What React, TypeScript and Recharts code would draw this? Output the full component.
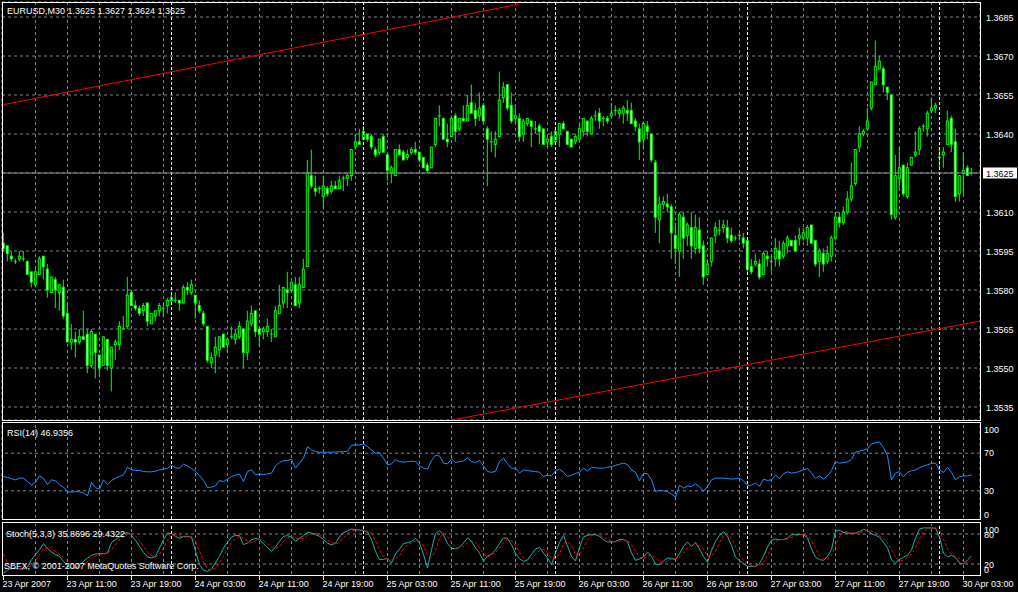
import {
	Bar,
	CartesianGrid,
	ComposedChart,
	Line,
	LineChart,
	ReferenceLine,
	XAxis,
	YAxis,
} from 'recharts';

// EURUSD M30, 23 Apr 2007 03:00 -> 30 Apr 03:00, one entry per 30 minute bar.
// prices are kept as pips above 1.3500
const PIP_BASE = 1.35;

const OPEN = [
	98, 97, 93, 91, 92, 92, 91, 87, 82, 86,
	93, 88, 79, 84, 79, 81, 71, 60, 61, 60,
	62, 63, 51, 63, 55, 51, 61, 50, 59, 59,
	65, 66, 79, 74, 73, 72, 75, 67, 70, 72,
	73, 74, 76, 76, 76, 75, 81, 79, 78, 74,
	71, 66, 52, 55, 57, 63, 59, 62, 61, 62,
	65, 56, 67, 72, 65, 64, 64, 63, 62, 71,
	75, 80, 80, 82, 75, 81, 89, 124, 119, 119,
	116, 119, 118, 120, 119, 123, 123, 124, 135, 137,
	138, 140, 139, 134, 133, 139, 132, 125, 124, 134,
	133, 131, 133, 134, 133, 131, 128, 127, 136, 147,
	146, 138, 139, 147, 142, 146, 145, 152, 149, 147,
	151, 142, 137, 136, 139, 154, 159, 151, 146, 146,
	140, 144, 145, 142, 143, 142, 137, 139, 137, 140,
	144, 141, 138, 137, 138, 141, 145, 140, 147, 148,
	146, 146, 147, 149, 148, 148, 149, 149, 145, 142,
	138, 143, 140, 129, 107, 113, 113, 112, 101, 95,
	108, 101, 104, 96, 103, 97, 86, 91, 101, 103,
	104, 104, 101, 100, 101, 100, 99, 89, 90, 90,
	86, 93, 91, 92, 95, 93, 97, 99, 99, 100,
	100, 100, 105, 99, 91, 94, 91, 93, 100, 108,
	106, 110, 115, 121, 135, 140, 142, 150, 159, 165,
	165, 158, 155, 108, 123, 128, 116, 128, 132, 134,
	143, 142, 149, 150, 131, 132, 136, 146, 137, 117,
	125, 127, 125,
];

const HIGH = [
	102, 97, 95, 92, 95, 95, 91, 87, 88, 93,
	93, 90, 85, 85, 82, 84, 75, 67, 64, 65,
	72, 65, 65, 63, 55, 62, 61, 58, 61, 68,
	70, 85, 80, 76, 74, 75, 75, 71, 72, 75,
	75, 77, 79, 79, 76, 82, 83, 84, 78, 76,
	72, 66, 56, 62, 62, 63, 62, 66, 65, 68,
	65, 72, 74, 72, 65, 66, 69, 65, 74, 82,
	81, 87, 83, 85, 85, 92, 130, 134, 124, 120,
	124, 120, 122, 122, 124, 124, 125, 134, 140, 142,
	143, 140, 140, 135, 138, 140, 132, 128, 134, 136,
	134, 134, 135, 137, 133, 131, 129, 135, 146, 151,
	146, 144, 147, 148, 146, 151, 155, 159, 152, 156,
	152, 143, 141, 141, 164, 160, 159, 156, 151, 148,
	146, 146, 145, 145, 144, 142, 139, 141, 142, 144,
	145, 141, 138, 140, 144, 146, 145, 147, 149, 150,
	147, 147, 152, 151, 150, 151, 153, 152, 146, 144,
	145, 145, 140, 130, 116, 116, 117, 113, 106, 110,
	110, 106, 110, 109, 108, 99, 92, 100, 106, 107,
	107, 107, 104, 101, 102, 102, 99, 92, 94, 92,
	95, 95, 93, 100, 99, 99, 101, 99, 101, 104,
	104, 105, 105, 99, 96, 96, 97, 101, 110, 110,
	112, 118, 129, 134, 143, 142, 150, 160, 176, 170,
	166, 158, 155, 132, 135, 128, 129, 131, 141, 143,
	144, 149, 154, 152, 135, 135, 149, 147, 142, 124,
	133, 128, 127,
];

const LOW = [
	95, 91, 91, 90, 91, 91, 86, 81, 81, 86,
	84, 77, 79, 73, 72, 69, 60, 57, 54, 59,
	61, 48, 50, 46, 47, 51, 49, 41, 53, 57,
	65, 65, 74, 72, 70, 70, 66, 67, 68, 70,
	70, 71, 75, 75, 72, 75, 78, 78, 69, 71,
	66, 52, 50, 48, 54, 58, 56, 61, 59, 61,
	50, 53, 66, 62, 58, 61, 62, 60, 62, 71,
	73, 73, 79, 74, 73, 81, 89, 119, 116, 117,
	111, 116, 117, 119, 119, 118, 120, 122, 134, 136,
	138, 137, 134, 131, 132, 133, 122, 121, 124, 132,
	130, 130, 132, 132, 129, 127, 125, 127, 135, 143,
	138, 135, 139, 137, 141, 145, 145, 148, 143, 145,
	144, 120, 133, 131, 139, 152, 149, 144, 144, 137,
	137, 143, 135, 140, 136, 136, 135, 135, 136, 135,
	142, 136, 135, 136, 138, 139, 139, 140, 145, 142,
	143, 144, 147, 147, 146, 144, 145, 144, 141, 130,
	134, 138, 129, 102, 98, 111, 110, 92, 90, 85,
	92, 97, 92, 94, 94, 82, 86, 89, 98, 101,
	102, 98, 98, 99, 99, 96, 87, 86, 89, 84,
	86, 89, 87, 89, 89, 92, 94, 97, 95, 97,
	99, 97, 98, 89, 85, 87, 90, 91, 99, 104,
	105, 109, 114, 120, 133, 139, 142, 149, 159, 165,
	156, 153, 107, 107, 119, 116, 115, 128, 131, 132,
	141, 139, 148, 148, 127, 127, 136, 133, 114, 114,
	117, 124, 124,
];

const CLOSE = [
	96, 94, 92, 91, 93, 92, 86, 83, 87, 92,
	89, 80, 85, 80, 82, 70, 60, 61, 60, 62,
	61, 51, 64, 56, 50, 62, 51, 58, 60, 66,
	65, 78, 74, 73, 71, 74, 68, 71, 72, 74,
	73, 76, 77, 76, 75, 81, 80, 82, 75, 72,
	67, 53, 54, 58, 62, 58, 61, 62, 63, 66,
	56, 68, 71, 64, 63, 65, 66, 63, 72, 74,
	81, 79, 83, 74, 82, 88, 125, 120, 118, 119,
	120, 117, 120, 119, 122, 123, 124, 134, 137, 136,
	141, 138, 135, 132, 138, 133, 126, 127, 134, 132,
	130, 132, 134, 133, 130, 127, 126, 135, 146, 147,
	138, 137, 146, 141, 146, 145, 151, 148, 146, 150,
	145, 138, 137, 138, 153, 158, 150, 145, 147, 139,
	145, 146, 143, 142, 141, 136, 138, 136, 141, 144,
	142, 136, 135, 139, 142, 146, 141, 146, 147, 145,
	146, 145, 148, 149, 149, 150, 148, 144, 143, 137,
	144, 141, 130, 108, 113, 114, 112, 102, 96, 109,
	100, 105, 97, 104, 96, 85, 90, 100, 104, 103,
	105, 100, 99, 100, 101, 98, 88, 87, 91, 85,
	94, 92, 91, 96, 92, 98, 100, 97, 95, 101,
	102, 104, 98, 90, 95, 90, 94, 100, 108, 106,
	110, 115, 120, 134, 140, 141, 145, 160, 166, 168,
	159, 156, 109, 124, 127, 117, 127, 131, 133, 142,
	143, 148, 150, 151, 131, 133, 145, 136, 116, 124,
	126, 124, 125,
];

const RSI = [
	45.2, 44.2, 42.8, 41.7, 43.5, 43.5, 39.9, 36, 38.9, 45.9,
	43.1, 36.7, 41.7, 40.6, 36.4, 33.9, 29, 28.6, 29, 29,
	27.6, 24.7, 38.9, 33.2, 31.8, 41.7, 36.4, 41, 43.5, 45.2,
	47, 55.1, 52.3, 51.6, 51.6, 50.5, 50.2, 50.2, 50.9, 52.3,
	53, 54.1, 57.2, 54.4, 54.1, 58.3, 56.5, 53.7, 50.5, 46.3,
	41, 33.6, 33.9, 35.3, 41, 39.9, 42.4, 45.2, 46.6, 47.7,
	39.9, 50.5, 52.3, 47, 47.7, 47.3, 48, 48.8, 56.5, 60.1,
	62.2, 62.2, 63.6, 54.1, 59.4, 64.7, 77, 73.5, 71.7, 71,
	71, 71, 71, 71.4, 71.4, 71.7, 72.1, 78.4, 78.8, 78.8,
	79.9, 77, 73.5, 70, 70.7, 64.7, 57.6, 58.7, 62.9, 61.1,
	60.4, 61.1, 61.5, 61.1, 56.5, 54.1, 53, 62.2, 67.8, 67.1,
	59.4, 58.7, 64, 60.1, 61.1, 61.8, 65, 61.1, 60.1, 62.2,
	56.5, 50.5, 49.6, 50.8, 61.3, 64.7, 58.7, 54.1, 54.1, 48.8,
	52.3, 51.6, 50.9, 50.5, 49.8, 45.2, 46.6, 45.9, 51.2, 53,
	49.8, 45.2, 46.6, 48.4, 49.8, 54.1, 50.9, 55.1, 54.4, 54.1,
	54.1, 55.1, 55.8, 57.2, 58.3, 59.4, 58, 52.3, 49.5, 40.6,
	48.8, 48.1, 41.7, 29.3, 30.4, 30, 29, 26.5, 23.3, 36,
	32.9, 35, 34.6, 37.5, 34.3, 29.3, 34.6, 41.7, 43.5, 43.5,
	43.5, 43.1, 42.4, 42.8, 43.5, 40.6, 35.7, 36, 38.2, 34.6,
	42.4, 41, 41.7, 46.6, 43.1, 48.1, 50.2, 48.8, 49.5, 50.5,
	52.3, 53.7, 48.8, 43.1, 45.9, 42.4, 45.9, 51.6, 61.1, 59.4,
	60.1, 60.8, 63.6, 71.2, 72.3, 73.2, 74.6, 79.8, 81.2, 81.9,
	76, 67.2, 41.6, 48.9, 50.4, 45.1, 49.6, 51.4, 52.1, 54.6,
	56.3, 57.7, 59.1, 59.5, 52.1, 49.6, 54.9, 49.6, 41.6, 45.1,
	45.8, 45.8, 46.9,
];

const STOCH_K = [
	2, 7.3, 11.3, 11.3, 10, 10, 14, 28.7, 38.7, 48.7,
	60.7, 50.7, 44, 38.7, 35.3, 25.3, 16.7, 11.3, 12, 16.7,
	25.3, 32, 37.3, 40, 40.7, 40.7, 42, 63.3, 68.7, 74,
	80.7, 83.3, 78, 67.3, 55.3, 43.3, 34, 32, 35.3, 52,
	68.7, 82, 80.7, 75.3, 71.3, 75.3, 75.3, 74, 45.3, 18.7,
	7.3, 5.3, 10, 22, 35.3, 52, 63.3, 74, 77.3, 76.7,
	58.7, 62, 68.7, 71.3, 68.7, 60.7, 52.7, 45.3, 54, 65.3,
	75.3, 76.7, 74, 65.3, 71.3, 76.7, 83.3, 82, 78.7, 75.3,
	68.7, 62, 58, 62, 74, 83.3, 86, 90, 88.7, 88,
	86.7, 84, 68.7, 45.3, 28.7, 29.3, 31.3, 22, 40, 50,
	60.7, 62.7, 64.7, 71.3, 62, 38.7, 12, 48.7, 80.7, 86.7,
	78, 60.7, 51.3, 50.7, 53.3, 62, 72, 65.3, 52, 42,
	25.3, 36, 40, 48, 61, 72, 71.3, 58.7, 40.7, 30.7,
	25.3, 28, 39.3, 50, 53.3, 42, 32, 18.7, 42, 63.3,
	77.3, 55.3, 35.3, 26, 53.3, 74, 77.3, 78.7, 78.7, 75.3,
	68.7, 64, 64, 65.3, 68.7, 68.7, 64.7, 42, 27.3, 30,
	34, 44, 35.3, 20, 18.7, 26, 32, 31.3, 28.7, 40.7,
	55.3, 64, 55.3, 63.3, 50, 35.3, 23.3, 47.3, 65.3, 77.3,
	84.7, 75.3, 56.7, 34, 26.7, 20.7, 15.3, 15.3, 15.3, 20.7,
	35.3, 54, 67.3, 70, 68.7, 68.7, 72, 78.7, 78.7, 78.7,
	78.7, 72, 50, 34, 28.7, 27.3, 35.3, 48.7, 86, 87.3,
	83.3, 82, 81, 82, 84.7, 89.4, 86.7, 80.7, 77.3, 73.9,
	63.1, 52.4, 28.8, 22, 28.8, 33.5, 37.5, 48.3, 71.9, 90.1,
	92.1, 92.1, 92.1, 91.5, 73.9, 41.6, 34.1, 37.5, 32.8, 22,
	20, 28.1, 35.9,
];

const STOCH_D = [
	40, 22, 10, 10, 11, 10, 11, 17, 27, 39,
	49, 53, 52, 45, 39, 33, 26, 18, 13, 13,
	18, 25, 32, 36, 39, 40, 41, 49, 58, 69,
	74, 79, 81, 76, 67, 55, 44, 37, 34, 40,
	52, 68, 77, 79, 76, 74, 74, 75, 65, 46,
	24, 10, 8, 12, 22, 36, 50, 63, 71, 76,
	71, 66, 63, 67, 70, 67, 61, 53, 51, 55,
	65, 72, 75, 72, 70, 71, 77, 81, 81, 79,
	74, 68, 63, 60, 64, 72, 81, 86, 88, 89,
	88, 86, 80, 66, 48, 35, 30, 28, 31, 37,
	50, 58, 62, 66, 66, 57, 38, 33, 47, 72,
	82, 75, 63, 54, 52, 55, 62, 66, 63, 53,
	40, 34, 38, 43, 52, 62, 69, 67, 57, 43,
	32, 28, 31, 39, 47, 49, 42, 31, 31, 41,
	61, 65, 56, 39, 38, 51, 68, 77, 78, 77,
	74, 69, 66, 64, 66, 68, 67, 58, 45, 33,
	30, 36, 38, 33, 25, 22, 26, 30, 31, 34,
	42, 53, 58, 61, 56, 50, 36, 35, 45, 63,
	76, 79, 72, 55, 39, 27, 21, 17, 15, 17,
	24, 37, 52, 64, 69, 69, 70, 73, 76, 79,
	79, 77, 67, 52, 38, 30, 30, 37, 57, 74,
	86, 84, 82, 82, 83, 85, 87, 86, 82, 77,
	71, 63, 48, 34, 26, 28, 33, 40, 53, 70,
	85, 91, 92, 92, 86, 69, 50, 38, 35, 31,
	25, 23, 29.4,
];

const TIME_LABELS = [
	'23 Apr 2007', '23 Apr 11:00', '23 Apr 19:00', '24 Apr 03:00',
	'24 Apr 11:00', '24 Apr 19:00', '25 Apr 03:00', '25 Apr 11:00',
	'25 Apr 19:00', '26 Apr 03:00', '26 Apr 11:00', '26 Apr 19:00',
	'27 Apr 03:00', '27 Apr 11:00', '27 Apr 19:00', '30 Apr 03:00',
];
const LABEL_BARS = [0, 16, 32, 48, 64, 80, 96, 112, 128, 144, 160, 176, 192, 208, 224, 240];
const GRID_BARS = [
	8, 16, 24, 32, 40, 48, 56, 64, 72, 80, 88, 96, 104, 112, 120, 128,
	136, 144, 152, 160, 168, 176, 184, 192, 200, 208, 216, 224, 232, 240,
];
const DAY_STARTS = [42, 90, 138, 186, 234];

const PRICE_TICKS = [
	1.3535, 1.355, 1.3565, 1.358, 1.3595, 1.361, 1.3625, 1.364, 1.3655, 1.367, 1.3685,
];
const RSI_TICKS = [0, 30, 70, 100];
const RSI_LEVELS = [30, 70];
const STOCH_TICKS = [0, 20, 80, 100];
const STOCH_LEVELS = [20, 80];

// hand drawn channel lines (bar index, price)
const UPPER_CHANNEL = [{ x: 0, y: 1.36513 }, { x: 129, y: 1.369 }];
const LOWER_CHANNEL = [{ x: 112, y: 1.353 }, { x: 244, y: 1.3568 }];

const X_DOMAIN: [number, number] = [-0.375, 244.125];
const PRICE_DOMAIN: [number, number] = [1.353, 1.369077];

const FONT = '"Liberation Sans", Arial, sans-serif';
const LIME = '#00ff00';
const GRID = '#778899';
const WHITE = '#ffffff';

const Candle = (props: any) => {
	const { x, y, width, height, payload } = props;
	const { open, high, low, close } = payload;
	const cx = x + width / 2;
	const k = high === low ? 0 : height / (high - low);
	const yOf = (v: number) => y + (high - v) * k;
	const top = yOf(Math.max(open, close));
	const bottom = yOf(Math.min(open, close));
	const body = bottom - top;
	return (
		<g>
			<line x1={cx} x2={cx} y1={y} y2={y + height} stroke={LIME} strokeWidth={1} />
			<rect x={cx - 1.5} y={top - 0.5} width={3} height={body + 1} fill={LIME} />
			{body > 1.5 && (
				<rect
					x={cx - 0.5}
					y={top + 0.5}
					width={1}
					height={body - 1}
					fill={close > open ? '#000000' : WHITE}
				/>
			)}
		</g>
	);
};

const levelTick = (shift: Record<number, number>) => (props: any) => {
	const { x, y, payload } = props;
	return (
		<text x={x + 4} y={y + 3.5 + (shift[payload.value] || 0)} fill={WHITE} fontSize={9} fontFamily={FONT}>
			{payload.value}
		</text>
	);
};

const TimeTick = (props: any) => {
	const { x, y, payload } = props;
	const label = TIME_LABELS[LABEL_BARS.indexOf(payload.value)];
	return (
		<g>
			<line x1={x} x2={x} y1={y + 2} y2={y + 6} stroke={WHITE} />
			<text x={x - 1} y={y + 13} fill={WHITE} fontSize={9} fontFamily={FONT}>
				{label}
			</text>
		</g>
	);
};

export default function App() {
	const bars = OPEN.map((o, i) => ({
		bar: i,
		open: PIP_BASE + o / 10000,
		high: PIP_BASE + HIGH[i] / 10000,
		low: PIP_BASE + LOW[i] / 10000,
		close: PIP_BASE + CLOSE[i] / 10000,
	}));
	const osc = RSI.map((rsi, i) => ({ bar: i, rsi, k: STOCH_K[i], d: STOCH_D[i] }));
	const last = bars[bars.length - 1];

	const PriceTick = (props: any) => {
		const { x, y, payload } = props;
		const isBid = Math.abs(payload.value - last.close) < 1e-7;
		return (
			<g>
				{isBid && <rect x={x + 3} y={y - 5.5} width={34} height={11} fill={WHITE} />}
				<text x={x + 6} y={y + 3.5} fill={isBid ? '#000000' : WHITE} fontSize={9} fontFamily={FONT}>
					{payload.value.toFixed(4)}
				</text>
			</g>
		);
	};

	const title = `EURUSD,M30  ${last.open.toFixed(4)} ${last.high.toFixed(4)} ${last.low.toFixed(4)} ${last.close.toFixed(4)}`;

	return (
		<div style={{ position: 'absolute', left: 0, top: 0, width: 1018, height: 592, background: '#000', overflow: 'hidden' }}>
			<div style={{ position: 'absolute', left: 0, top: 0 }}>
				<ComposedChart width={1018} height={422} data={bars} margin={{ top: 2, right: 0, bottom: 2, left: 2 }}>
					<CartesianGrid stroke={GRID} strokeDasharray='3 3' />
					<XAxis dataKey='bar' type='number' domain={X_DOMAIN} allowDataOverflow ticks={GRID_BARS} interval={0} hide />
					<YAxis
						orientation='right'
						width={38}
						domain={PRICE_DOMAIN}
						allowDataOverflow
						ticks={PRICE_TICKS}
						interval={0}
						tick={PriceTick}
						tickSize={0}
						tickMargin={0}
						axisLine={false}
						tickLine={false}
					/>
					{DAY_STARTS.map((d) => (
						<ReferenceLine key={d} x={d} stroke={WHITE} strokeDasharray='3 2' />
					))}
					<ReferenceLine y={last.close} stroke='#8c8c96' />
					<Bar
						dataKey={(d: any) => [d.low, d.high]}
						barSize={4}
						shape={Candle}
						isAnimationActive={false}
					/>
					<ReferenceLine segment={UPPER_CHANNEL} stroke='#ff0000' />
					<ReferenceLine segment={LOWER_CHANNEL} stroke='#ff0000' />
				</ComposedChart>
			</div>

			<div style={{ position: 'absolute', left: 0, top: 421 }}>
				<LineChart width={1018} height={100} data={osc} margin={{ top: 4, right: 0, bottom: 2, left: 2 }}>
					<CartesianGrid stroke={GRID} strokeDasharray='3 3' horizontal={false} />
					<XAxis dataKey='bar' type='number' domain={X_DOMAIN} allowDataOverflow ticks={GRID_BARS} interval={0} hide />
					<YAxis
						orientation='right'
						width={38}
						domain={[0, 100]}
						ticks={RSI_TICKS}
						interval={0}
						tick={levelTick({ 100: 4.5, 70: -1, 0: -5 })}
						tickSize={0}
						tickMargin={0}
						axisLine={false}
						tickLine={false}
					/>
					{RSI_LEVELS.map((v) => (
						<ReferenceLine key={v} y={v} stroke={GRID} strokeDasharray='3 3' />
					))}
					{DAY_STARTS.map((d) => (
						<ReferenceLine key={d} x={d} stroke={WHITE} strokeDasharray='3 2' />
					))}
					<Line dataKey='rsi' type='linear' stroke='#1e90ff' strokeWidth={1} dot={false} isAnimationActive={false} />
				</LineChart>
			</div>

			<div style={{ position: 'absolute', left: 0, top: 521 }}>
				<LineChart width={1018} height={71} data={osc} margin={{ top: 3, right: 0, bottom: 0, left: 2 }}>
					<XAxis
						dataKey='bar'
						type='number'
						domain={X_DOMAIN}
						allowDataOverflow
						ticks={LABEL_BARS}
						interval={0}
						height={18}
						tick={TimeTick}
						tickSize={0}
						tickMargin={0}
						axisLine={false}
						tickLine={false}
					/>
					<YAxis
						orientation='right'
						width={38}
						domain={[0, 100]}
						ticks={STOCH_TICKS}
						interval={0}
						tick={levelTick({ 100: 5.5, 0: -5 })}
						tickSize={0}
						tickMargin={0}
						axisLine={false}
						tickLine={false}
					/>
					{GRID_BARS.map((b) => (
						<ReferenceLine key={`g${b}`} x={b} stroke={GRID} strokeDasharray='3 3' />
					))}
					{STOCH_LEVELS.map((v) => (
						<ReferenceLine key={v} y={v} stroke={GRID} strokeDasharray='3 3' />
					))}
					{DAY_STARTS.map((d) => (
						<ReferenceLine key={d} x={d} stroke={WHITE} strokeDasharray='3 2' />
					))}
					<Line dataKey='k' type='linear' stroke='#20b2aa' strokeWidth={1} dot={false} isAnimationActive={false} />
					<Line
						dataKey='d'
						type='linear'
						stroke='#ff0000'
						strokeWidth={1}
						strokeDasharray='3 2'
						dot={false}
						isAnimationActive={false}
					/>
				</LineChart>
			</div>

			<svg width={1018} height={592} style={{ position: 'absolute', left: 0, top: 0, pointerEvents: 'none' }}>
				<rect x={2.5} y={2.5} width={978} height={418} fill='none' stroke={WHITE} />
				<rect x={2.5} y={422.5} width={978} height={97} fill='none' stroke={WHITE} />
				<rect x={2.5} y={522.5} width={978} height={53} fill='none' stroke={WHITE} />
				<g fill={WHITE} fontSize={9} fontFamily={FONT} style={{ whiteSpace: 'pre' }}>
					<text x={7} y={14}>{title}</text>
					<text x={7} y={436}>RSI(14) 46.9356</text>
					<text x={6} y={537}>Stoch(5,3,3) 35.8696 29.4322</text>
					<text x={4} y={569}>SBFX, © 2001-2007 MetaQuotes Software Corp.</text>
				</g>
			</svg>
		</div>
	);
}
